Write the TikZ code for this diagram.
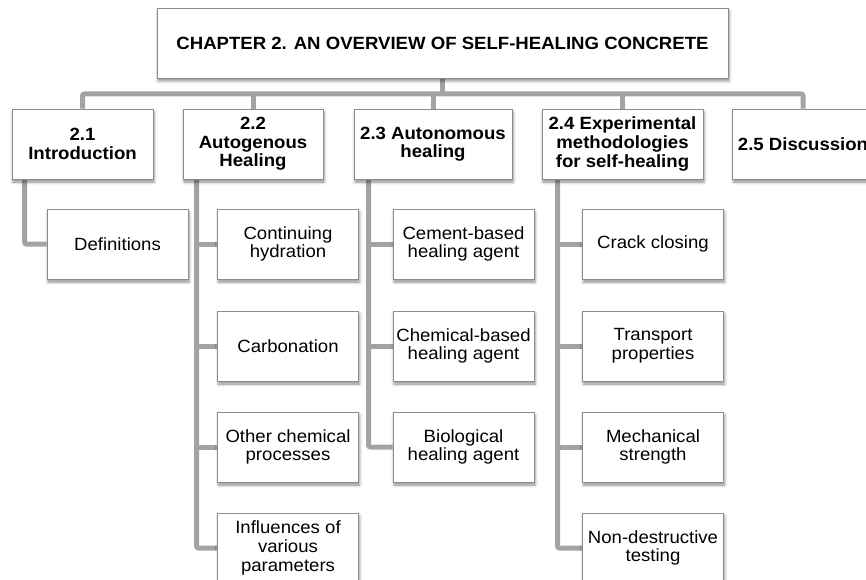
\documentclass[tikz,border=0pt]{standalone}
\usepackage{fontspec}
\setmainfont{Liberation Sans}[FakeStretch=1.05]
\usetikzlibrary{shadows.blur,backgrounds}
\definecolor{conncol}{HTML}{A3A3A3}
\definecolor{boxline}{HTML}{8C8C8C}
\tikzset{
  box/.style={draw=boxline, line width=0.9pt, fill=white, align=center, inner sep=0pt,
    minimum height=70pt, font=\fontsize{17.7}{18.6}\selectfont,
    blur shadow={shadow xshift=1pt, shadow yshift=-3pt, shadow blur radius=3pt, shadow opacity=45}},
  head/.style={box, font=\fontsize{17.7}{18.6}\selectfont\bfseries},
  sub/.style={box, minimum width=141pt},
  conn/.style={draw=conncol, line width=5pt, rounded corners=2pt},
}
\begin{document}
\begin{tikzpicture}[x=1pt,y=-1pt]
\useasboundingbox (0,0) rectangle (866,580);
\clip (0,0) rectangle (866,580);
% title
\node[head, minimum width=571pt] (t) at (442.5,43) {CHAPTER 2. AN OVERVIEW OF SELF-HEALING CONCRETE};
% level 1
\node[head, minimum width=141pt] (a) at (82.5,144) {2.1\\Introduction};
\node[head, minimum width=140pt] (b) at (253,144) {2.2\\Autogenous\\Healing};
\node[head, minimum width=158pt] (c) at (433,144) {2.3 Autonomous\\healing};
\node[head, minimum width=161pt] (d) at (622.5,144) {2.4 Experimental\\methodologies\\for self-healing};
\node[head, minimum width=141pt] (e) at (803,144) {2.5 Discussion};
% level 2
\node[sub] (a1) at (117.5,244) {Definitions};
\node[sub] (b1) at (288,244) {Continuing\\hydration};
\node[sub] (b2) at (288,346) {Carbonation};
\node[sub] (b3) at (288,447) {Other chemical\\processes};
\node[sub] (b4) at (288,548) {Influences of\\various\\parameters};
\node[sub] (c1) at (463.5,244) {Cement-based\\healing agent};
\node[sub] (c2) at (463.5,346) {Chemical-based\\healing agent};
\node[sub] (c3) at (463.5,447) {Biological\\healing agent};
\node[sub] (d1) at (653,244) {Crack closing};
\node[sub] (d2) at (653,346) {Transport\\properties};
\node[sub] (d3) at (653,447) {Mechanical\\strength};
\node[sub] (d4) at (653,548) {Non-destructive\\testing};
% connectors
\begin{scope}[on background layer]
\coordinate (bar) at (0,94);
\draw[conn] (t.south) -- (t.south |- bar);
\draw[conn] (a.north) |- (e.north |- bar) -- (e.north);
\foreach \n in {b,c,d} {\draw[conn] (\n.north) -- (\n.north |- bar);}
\coordinate (sa) at ([xshift=13pt]a.south west);
\coordinate (sb) at ([xshift=14pt]b.south west);
\coordinate (sc) at ([xshift=15pt]c.south west);
\coordinate (sd) at ([xshift=16pt]d.south west);
\draw[conn] (sa) |- (a1.west);
\draw[conn] (sb) |- (b4.west);
\foreach \n in {b1,b2,b3} {\draw[conn] (sb |- \n.west) -- (\n.west);}
\draw[conn] (sc) |- (c3.west);
\foreach \n in {c1,c2} {\draw[conn] (sc |- \n.west) -- (\n.west);}
\draw[conn] (sd) |- (d4.west);
\foreach \n in {d1,d2,d3} {\draw[conn] (sd |- \n.west) -- (\n.west);}
\end{scope}
\end{tikzpicture}
\end{document}
